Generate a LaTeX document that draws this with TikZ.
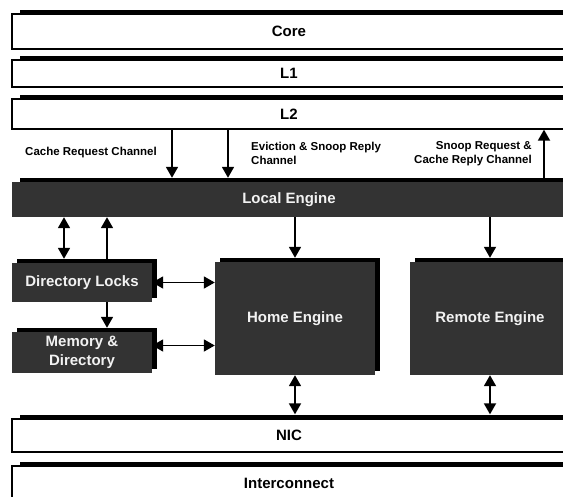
\documentclass[tikz,border=0pt]{standalone}
\usepackage{fontspec}
\setmainfont{Liberation Sans}
\usetikzlibrary{arrows.meta,shadows}

\definecolor{engine}{HTML}{333333}
\definecolor{enginetext}{HTML}{F2F2F2}

\tikzset{
  panel/.style={general shadow={fill=black, shadow xshift=#1, shadow yshift=4.5pt}},
  panel/.default=5pt,
  layer/.style={draw=black, line width=1.3pt, fill=white, minimum width=554pt,
    inner sep=0pt, panel=8pt, font=\fontsize{15}{18}\selectfont\bfseries},
  unit/.style={fill=engine, text=enginetext, inner sep=0pt, align=center,
    font=\fontsize{15}{18.5}\selectfont\bfseries},
  chan/.style={inner sep=0pt, font=\fontsize{11.5}{14}\selectfont\bfseries},
  arr/.style={line width=1.8pt, -{Triangle[length=11pt,width=12pt]}},
  darr/.style={line width=1.8pt,
    {Triangle[length=11pt,width=12pt]}-{Triangle[length=11pt,width=12pt]}},
}

\begin{document}
\begin{tikzpicture}[x=1pt,y=-1pt]
  \useasboundingbox (0,0) rectangle (563,496);
  \clip (0,0) rectangle (563,496);

  % processor side
  \node[layer, minimum height=35pt] (core) at (289,31.5) {Core};
  \node[layer, minimum height=27pt] (l1) at (289,73.5) {L1};
  \node[layer, minimum height=30pt] (l2) at (289,114) {L2};

  % engines
  \node[unit, panel=8pt, minimum width=554pt, minimum height=35pt] (local) at (289,199.5) {Local Engine};
  \node[unit, panel, minimum width=140pt, minimum height=39pt] (dirlocks) at (82,282.5) {Directory Locks};
  \node[unit, panel, minimum width=140pt, minimum height=41pt] (memdir) at (82,352.5) {Memory \&\\Directory};
  \node[unit, panel, minimum width=160pt, minimum height=113pt] (home) at (295,318.5) {Home Engine};
  \node[unit, panel, minimum width=160pt, minimum height=113pt] (remote) at (490,318.5) {Remote Engine};

  % network side
  \node[layer, minimum height=33pt] (nic) at (289,435.5) {NIC};
  \node[layer, minimum height=34pt] (net) at (289,483) {Interconnect};

  % channel labels
  \node[chan, anchor=west] (reqlbl) at (25,153) {Cache Request Channel};
  \node[chan, anchor=west, align=left] (evlbl) at (251,153) {Eviction \& Snoop Reply\\Channel};
  \node[chan, anchor=east, align=right] (snplbl) at (532,154) {Snoop Request \&\\Cache Reply Channel};

  % where the vertical links sit
  \coordinate (reqx) at (172,0);
  \coordinate (evx) at (228,0);
  \coordinate (snpx) at (544,0);
  \coordinate (lockx) at (64,0);
  \coordinate (memx) at (107,0);
  \coordinate (memport) at ([yshift=7pt]memdir.east);

  % links
  \draw[arr, shorten >=4pt] (l2.south -| reqx) -- (local.north -| reqx);
  \draw[arr, shorten >=4pt] (l2.south -| evx) -- (local.north -| evx);
  \draw[arr] (local.north -| snpx) -- (l2.south -| snpx);
  \draw[darr, shorten >=4pt] (local.south -| lockx) -- (dirlocks.north -| lockx);
  \draw[arr] (dirlocks.north -| memx) -- (local.south -| memx);
  \draw[arr, shorten >=4pt] (dirlocks.south -| memx) -- (memdir.north -| memx);
  \draw[darr] (dirlocks.east) -- (dirlocks.east -| home.west);
  \draw[darr] (memport) -- (memport -| home.west);
  \draw[arr, shorten >=4pt] (local.south -| home.north) -- (home.north);
  \draw[arr, shorten >=4pt] (local.south -| remote.north) -- (remote.north);
  \draw[darr, shorten >=4pt] (home.south) -- (nic.north -| home.south);
  \draw[darr, shorten >=4pt] (remote.south) -- (nic.north -| remote.south);
\end{tikzpicture}
\end{document}
